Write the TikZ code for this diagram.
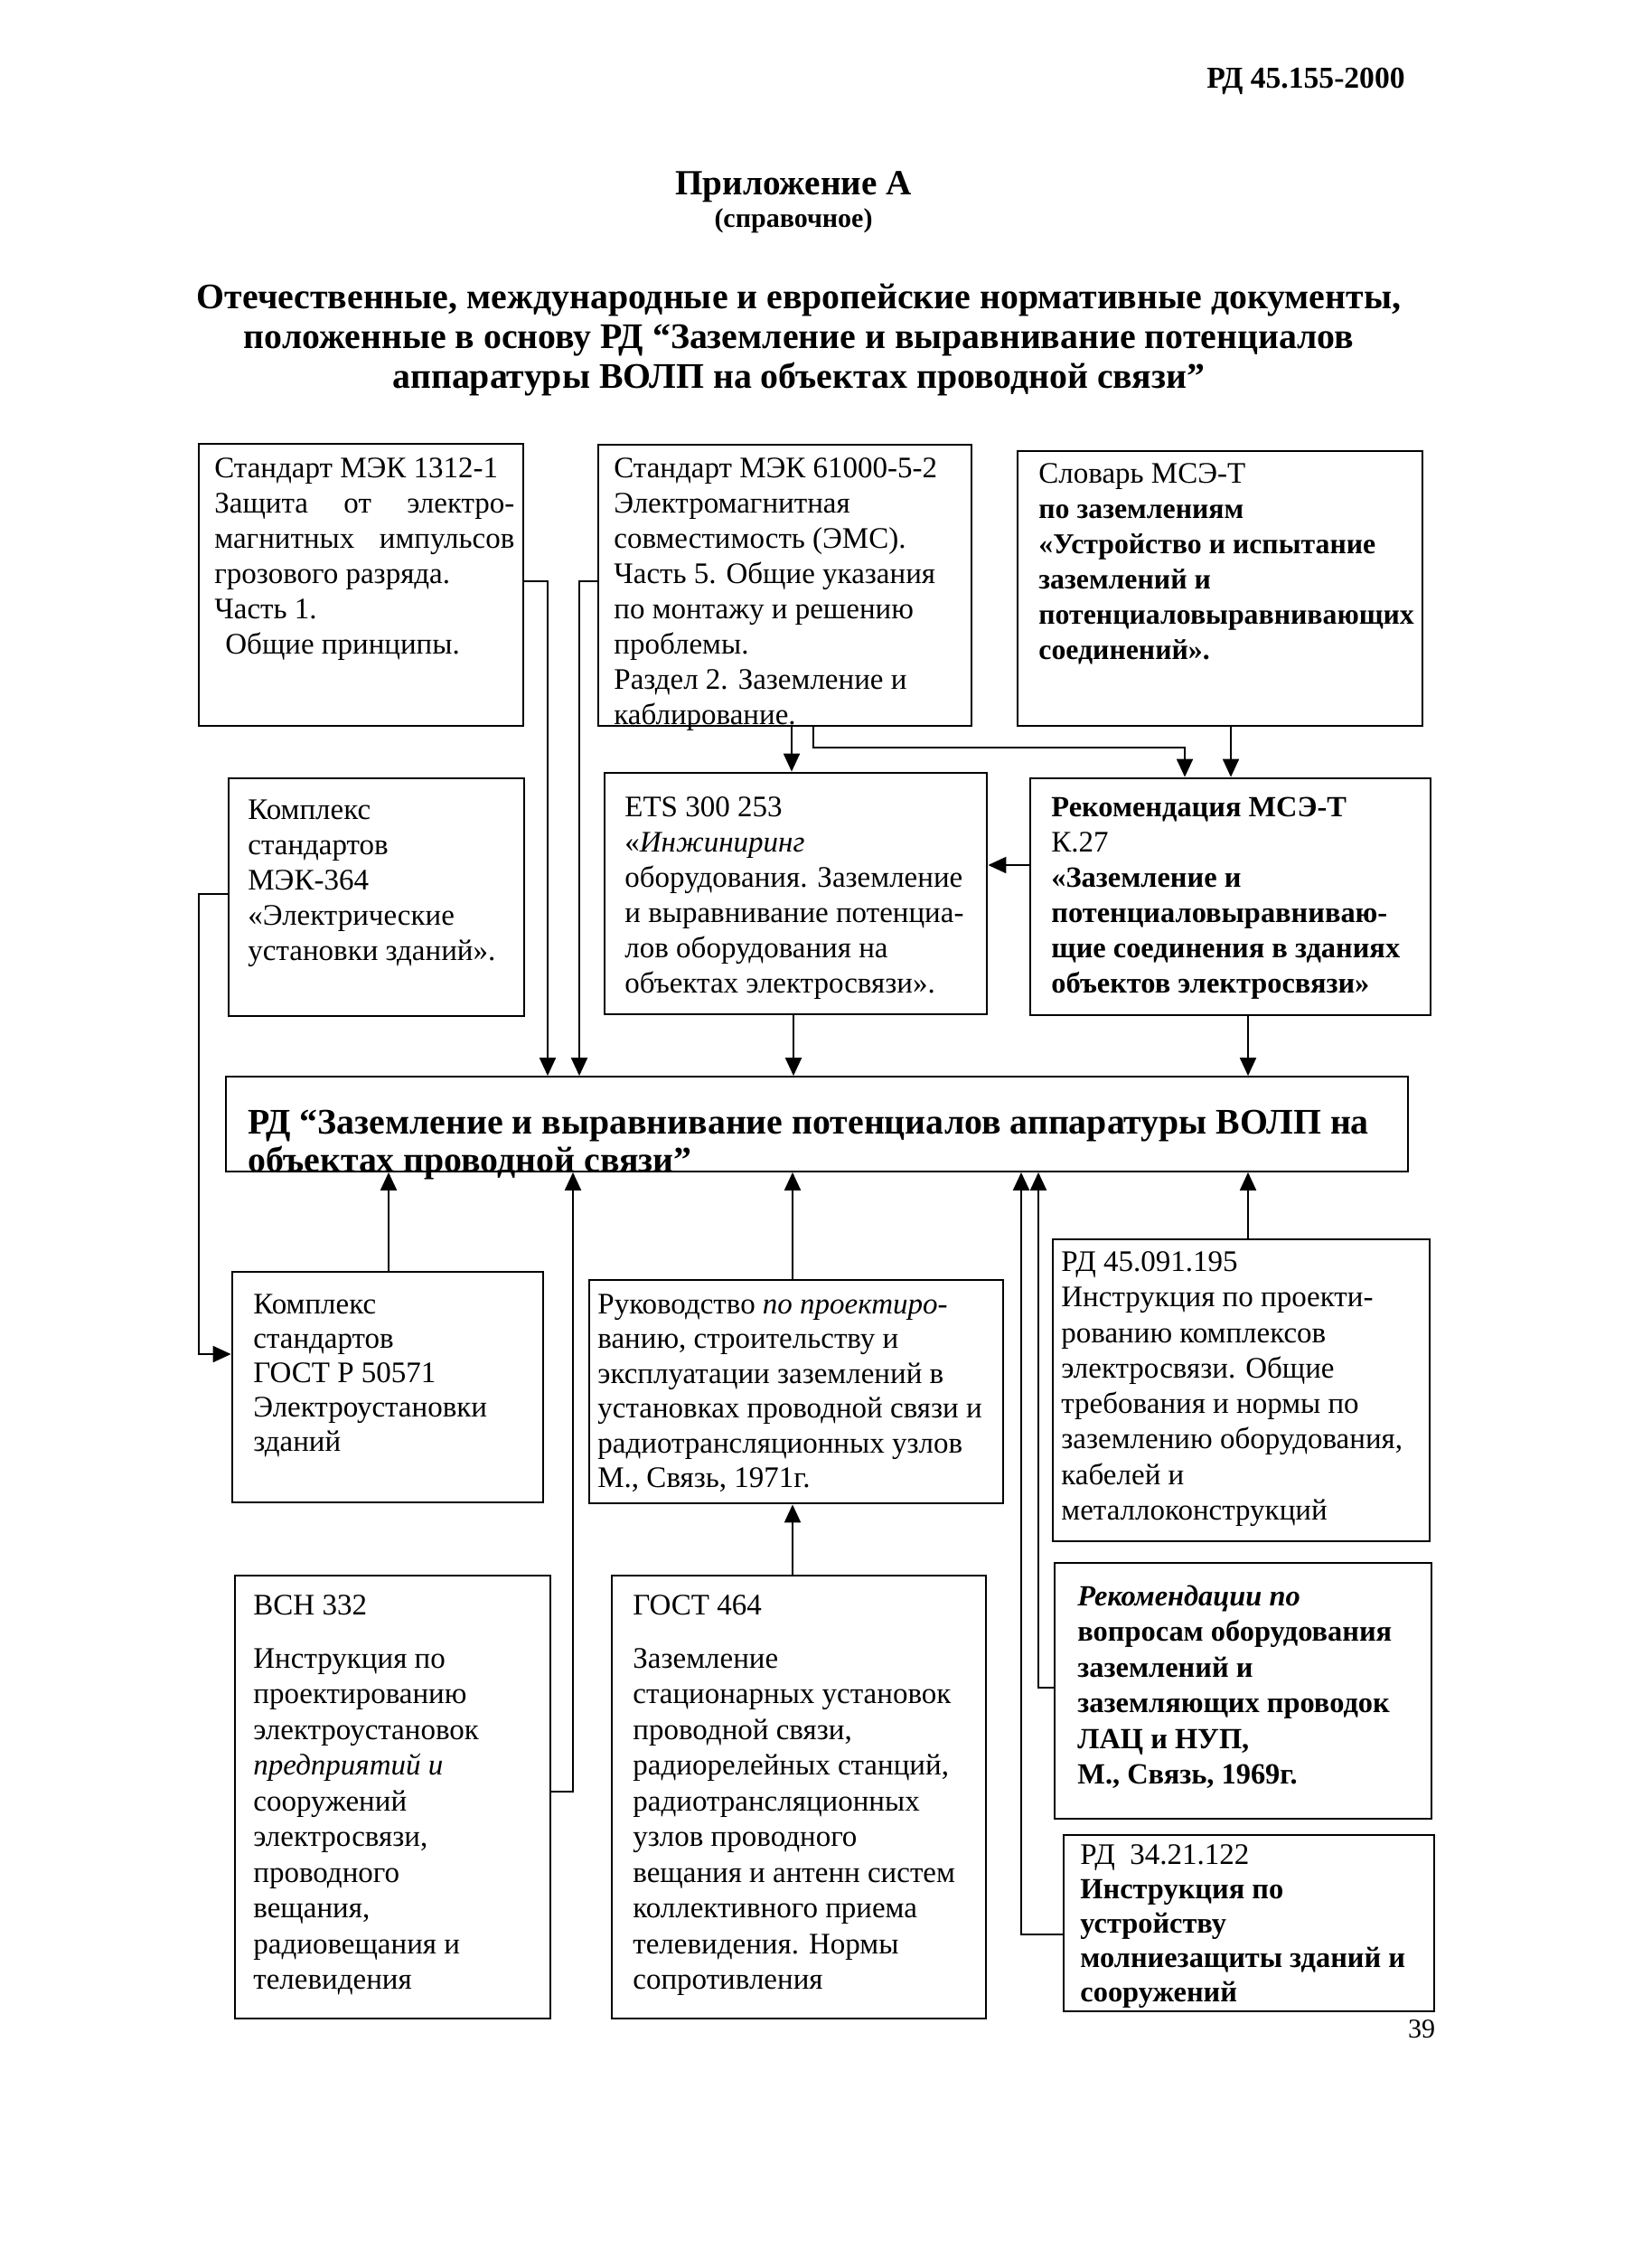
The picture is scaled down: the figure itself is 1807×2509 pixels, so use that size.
\documentclass[tikz,border=0pt]{standalone}
\usepackage{fontspec}
\setmainfont{Liberation Serif}
\usetikzlibrary{arrows.meta,fit}
\tikzset{
  box/.style={draw, line width=1.4pt, inner sep=0pt},
  mainbox/.style={draw, line width=0.9pt, inner sep=0pt},
  arr/.style={line width=1pt, -{Triangle[length=10pt,width=9pt]}},
  txt/.style={anchor=north west, align=left, inner sep=0pt, font=\fontsize{16.5}{19.5}\selectfont},
}
\newcommand\bsm[1]{{\fontsize{15.9}{19.5}\selectfont\bfseries #1}}
\newcommand\bmd[1]{{\fontsize{16.2}{19.5}\selectfont\bfseries #1}}
\begin{document}
\begin{tikzpicture}[x=0.5pt,y=-0.5pt]
\useasboundingbox (0,0) rectangle (1807,2509);
\fill[white] (0,0) rectangle (1807,2509);

% header
\node[font=\fontsize{16.8}{19}\selectfont\bfseries] (hdr) at (1445,90) {РД 45.155-2000};
\node[font=\fontsize{19.6}{22}\selectfont\bfseries] (app) at (878,207) {Приложение А};
\node[font=\fontsize{15}{18}\selectfont\bfseries] (spr) at (878,244) {(справочное)};
\node[font=\fontsize{19.9}{22}\selectfont\bfseries, align=center] (ttl) at (884,376)
  {Отечественные, международные и европейские нормативные документы,\\
   положенные в основу РД “Заземление и выравнивание потенциалов\\
   аппаратуры ВОЛП на объектах проводной связи”};

% boxes
\node[box, fit={(220,491) (579,803)}] (b1) {};
\node[box, fit={(662,492) (1075,803)}] (b2) {};
\node[box, fit={(1126,499) (1574,803)}] (b3) {};
\node[box, fit={(253,861) (580,1124)}] (b4) {};
\node[box, fit={(669,855) (1092,1122)}] (b5) {};
\node[box, fit={(1140,861) (1583,1123)}] (b6) {};
\node[mainbox, fit={(250,1191) (1558,1296)}] (main) {};
\node[box, fit={(257,1407) (601,1662)}] (b7) {};
\node[box, fit={(652,1416) (1110,1663)}] (b8) {};
\node[box, fit={(1165,1371) (1582,1705)}] (b9) {};
\node[box, fit={(260,1743) (609,2233)}] (b10) {};
\node[box, fit={(677,1743) (1091,2233)}] (b11) {};
\node[box, fit={(1167,1729) (1584,2012)}] (b12) {};
\node[box, fit={(1177,2030) (1587,2225)}] (b13) {};

% texts
\node[txt] (t1) at (237,500.7) {\strut Стандарт МЭК 1312-1\\
  \makebox[166pt][s]{Защита от электро-}\\
  \makebox[166pt][s]{магнитных импульсов}\\
  грозового разряда.\\
  Часть 1.\\
  \hspace{6pt}Общие принципы.};
\node[txt] (t2) at (679,500.7) {\strut Стандарт МЭК 61000-5-2\\
  Электромагнитная\\
  совместимость (ЭМС).\\
  Часть 5. Общие указания\\
  по монтажу и решению\\
  проблемы.\\
  Раздел 2. Заземление и\\
  каблирование.};
\node[txt] (t3) at (1149,506.7) {\strut Словарь МСЭ-Т\\
  \bsm{по заземлениям}\\
  \bsm{«Устройство и испытание}\\
  \bsm{заземлений и}\\
  \bsm{потенциаловыравнивающих}\\
  \bsm{соединений».}};
\node[txt] (t4) at (274,878.7) {\strut Комплекс\\
  стандартов\\
  МЭК-364\\
  «Электрические\\
  установки зданий».};
\node[txt] (t5) at (691,875.7) {\strut ETS 300 253\\
  «\textit{Инжиниринг}\\
  оборудования. Заземление\\
  и выравнивание потенциа-\\
  лов оборудования на\\
  объектах электросвязи».};
\node[txt] (t6) at (1163,875.7) {\strut\bmd{Рекомендация МСЭ-Т}\\
  К.27\\
  \bmd{«Заземление и}\\
  \bmd{потенциаловыравниваю-}\\
  \bmd{щие соединения в зданиях}\\
  \bmd{объектов электросвязи»}};
\node[txt, font=\fontsize{19.9}{20}\selectfont\bfseries] (tm) at (274,1226)
  {\strut РД “Заземление и выравнивание потенциалов аппаратуры ВОЛП на\\
   объектах проводной связи”};
\node[txt, font=\fontsize{16.5}{19}\selectfont] (t7) at (280,1426.4) {\strut Комплекс\\
  стандартов\\
  ГОСТ Р 50571\\
  Электроустановки\\
  зданий};
\node[txt, font=\fontsize{16.5}{19.25}\selectfont] (t8) at (661,1426) {\strut Руководство \textit{по проектиро-}\\
  ванию, строительству и\\
  эксплуатации заземлений в\\
  установках проводной связи и\\
  радиотрансляционных узлов\\
  М., Связь, 1971г.};
\node[txt, font=\fontsize{16.5}{19.65}\selectfont] (t9) at (1174,1378.5) {\strut РД 45.091.195\\
  Инструкция по проекти-\\
  рованию комплексов\\
  электросвязи. Общие\\
  требования и нормы по\\
  заземлению оборудования,\\
  кабелей и\\
  металлоконструкций};
\node[txt, font=\fontsize{16.5}{19.75}\selectfont] (t10) at (280,1758.4) {\strut ВСН 332\\[9.75pt]
  Инструкция по\\
  проектированию\\
  электроустановок\\
  \textit{предприятий и}\\
  сооружений\\
  электросвязи,\\
  проводного\\
  вещания,\\
  радиовещания и\\
  телевидения};
\node[txt, font=\fontsize{16.5}{19.75}\selectfont] (t11) at (700,1758.4) {\strut ГОСТ 464\\[9.75pt]
  Заземление\\
  стационарных установок\\
  проводной связи,\\
  радиорелейных станций,\\
  радиотрансляционных\\
  узлов проводного\\
  вещания и антенн систем\\
  коллективного приема\\
  телевидения. Нормы\\
  сопротивления};
\node[txt, font=\fontsize{16.2}{19.75}\selectfont\bfseries] (t12) at (1192,1748.4) {\strut\textit{Рекомендации по}\\
  вопросам оборудования\\
  заземлений и\\
  заземляющих проводок\\
  ЛАЦ и НУП,\\
  М., Связь, 1969г.};
\node[txt, font=\fontsize{16.5}{19}\selectfont] (t13) at (1195,2035.4) {\strut РД \ 34.21.122\\
  \bmd{Инструкция по}\\
  \bmd{устройству}\\
  \bmd{молниезащиты зданий и}\\
  \bmd{сооружений}};
\node[font=\fontsize{15}{18}\selectfont] (pg) at (1573,2245) {39};

% connectors
\coordinate (e4) at (1311,827);
\draw[arr] (b1.east |- 0,643) -| (main.north -| 606,0);
\draw[arr] (b2.west |- 0,643) -| (main.north -| 641,0);
\draw[arr] (b2.south -| 876,0) -- (b5.north -| 876,0);
\draw[arr] (b2.south -| 900,0) |- (e4) -- (b6.north -| e4);
\draw[arr] (b3.south -| 1362,0) -- (b6.north -| 1362,0);
\draw[arr] (b6.west |- 0,957) -- (b5.east |- 0,957);
\draw[arr] (b5.south -| 878,0) -- (main.north -| 878,0);
\draw[arr] (b6.south -| 1381,0) -- (main.north -| 1381,0);
\draw[arr] (b4.west |- 0,989) -- (220,989) |- (b7.west |- 0,1498);
\draw[arr] (b7.north -| 430,0) -- (main.south -| 430,0);
\draw[arr] (b10.east |- 0,1982) -| (main.south -| 634,0);
\draw[arr] (b8.north -| 877,0) -- (main.south -| 877,0);
\draw[arr] (b11.north -| 877,0) -- (b8.south -| 877,0);
\draw[arr] (b12.west |- 0,1867) -| (main.south -| 1149,0);
\draw[arr] (b13.west |- 0,2140) -| (main.south -| 1130,0);
\draw[arr] (b9.north -| 1381,0) -- (main.south -| 1381,0);
\end{tikzpicture}
\end{document}
